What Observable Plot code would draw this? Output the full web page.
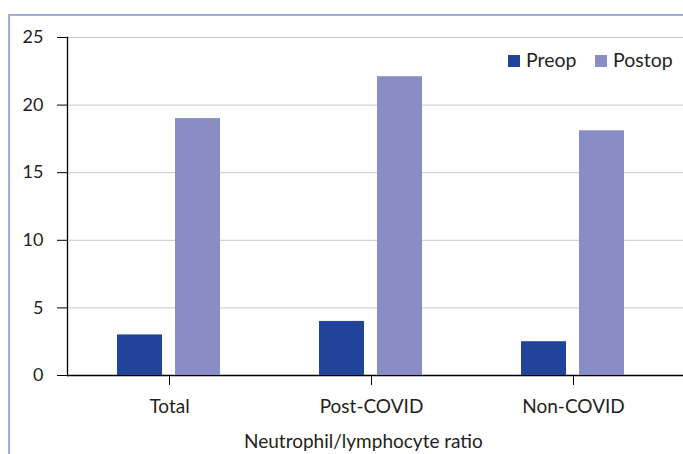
<!DOCTYPE html>
<html><head><meta charset="utf-8">
<script src="https://cdn.jsdelivr.net/npm/d3@7"></script>
<script src="https://cdn.jsdelivr.net/npm/@observablehq/plot@0.6"></script>
<style>
html,body{margin:0;padding:0;background:#fff;}
#wrap{position:relative;width:683px;height:454px;overflow:hidden;font-family:Lato,sans-serif;color:#231f20;}
#frame{position:absolute;left:8px;top:14px;width:700px;height:470px;border-left:2px solid #9db1e0;border-top:2px solid #9db1e0;pointer-events:none;}
.layer{position:absolute;left:0;top:0;}
.leg{position:absolute;top:50px;font-size:19.5px;line-height:1;white-space:nowrap;}
.leg .sw{position:absolute;left:0;top:5px;width:12px;height:12px;}
.leg .tx{position:absolute;left:18px;top:0;}
#xtitle{position:absolute;left:244px;top:431px;font-size:19px;line-height:1;white-space:nowrap;}
</style>
</head><body>
<div id="wrap"><div id="back" class="layer"></div><div id="bars" class="layer"></div><div id="legend"></div><div id="xtitle"></div><div id="frame"></div></div>
<script>
const categories = ["Total", "Post-COVID", "Non-COVID"];
const series = ["Preop", "Postop"];
const preopValues = [3, 4, 2.5];
const postopValues = [19, 22.1, 18.1];
const yTicks = [0, 5, 10, 15, 20, 25];
const xTitle = "Neutrophil/lymphocyte ratio";
const colors = ["#21449a", "#898dc5"];

const data = [];
categories.forEach((c, i) => {
  data.push({category: c, series: "Preop", value: preopValues[i]});
  data.push({category: c, series: "Postop", value: postopValues[i]});
});

const font = "Lato, sans-serif";
const common = {
  width: 683,
  height: 454,
  marginLeft: 67,
  marginRight: 8,
  marginTop: 37,
  marginBottom: 79,
  style: {fontFamily: font, fontSize: "19px", color: "#231f20", background: "transparent"},
  y: {domain: [0, 25], axis: null}
};
const catScale = {domain: categories, paddingInner: 0.486, paddingOuter: 0.246};

// background: grid, axes
const back = Plot.plot({
  ...common,
  x: {...catScale, axis: null},
  marks: [
    Plot.gridY(yTicks, {stroke: "#c8c8c8", strokeOpacity: 1, insetRight: -8}),
    Plot.ruleY([0], {stroke: "#000", strokeWidth: 1.3, insetRight: -8}),
    Plot.axisY(yTicks, {tickSize: 10, tickPadding: 14, label: null, tickFormat: d => String(d), stroke: "#000", fontSize: 18}),
    Plot.axisX({tickSize: 10, tickPadding: 14, label: null, stroke: "#000", fontSize: 19}),
    Plot.frame({anchor: "left", stroke: "#000", strokeWidth: 1.3})
  ]
});
document.getElementById("back").appendChild(back);

// bars: grouped via fx facets, same band geometry
const bars = Plot.plot({
  ...common,
  fx: {...catScale, axis: null},
  x: {domain: series, paddingInner: 0.218, paddingOuter: 0, axis: null},
  color: {domain: series, range: colors},
  marks: [
    Plot.barY(data, {fx: "category", x: "series", y: "value", fill: "series"})
  ]
});
document.getElementById("bars").appendChild(bars);

document.getElementById("xtitle").textContent = xTitle;

const legend = document.getElementById("legend");
const legLeft = [508, 595];
series.forEach((s, i) => {
  const it = document.createElement("div");
  it.className = "leg";
  it.style.left = legLeft[i] + "px";
  const sw = document.createElement("span");
  sw.className = "sw";
  sw.style.background = colors[i];
  const tx = document.createElement("span");
  tx.className = "tx";
  tx.textContent = s;
  it.appendChild(sw);
  it.appendChild(tx);
  legend.appendChild(it);
});
</script>
</body></html>
